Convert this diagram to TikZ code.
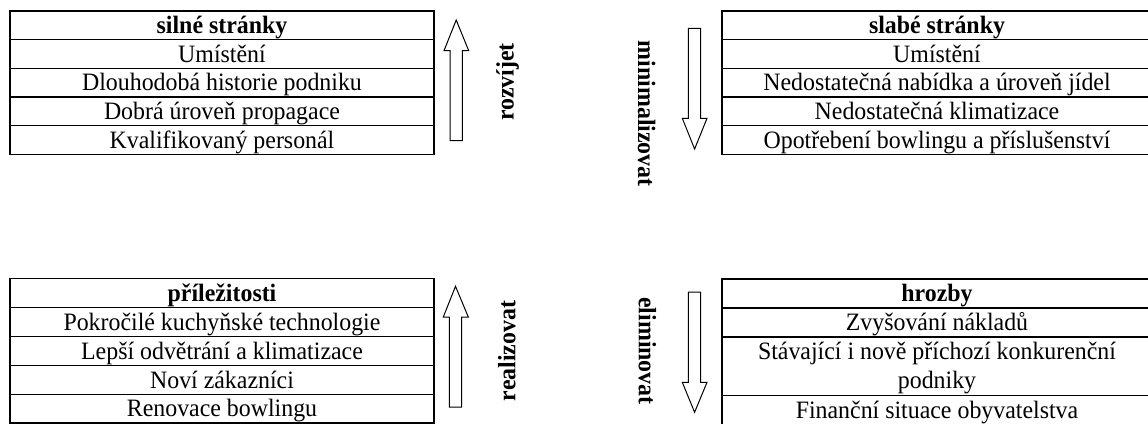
\documentclass[tikz,border=0pt]{standalone}
\usepackage{fontspec}
\setmainfont{Liberation Serif}[FakeStretch=0.955]
\begin{document}
\begin{tikzpicture}[x=1pt,y=-1pt,
  txt/.style={font=\fontsize{25}{29}\selectfont},
  cell/.style={draw=black, line width=1.3pt, inner sep=0pt, outer sep=0pt,
    txt, text height=22.6pt, text depth=6pt},
  head/.style={cell, font=\fontsize{25}{29}\selectfont\bfseries},
  blockarrow/.style={draw=black, line width=1pt, fill=white, line join=miter},
  verb/.style={font=\fontsize{25}{29}\selectfont\bfseries, inner sep=0pt}]
\useasboundingbox (0,0) rectangle (1148,423);

% ---- silné stránky (x 10..434) ----
\node[head, minimum width=424pt, minimum height=28.66pt] (sH) at (222, 25.33) {silné stránky};
\foreach \t [count=\i from 0] in {Umístění,Dlouhodobá historie podniku,Dobrá úroveň propagace,Kvalifikovaný personál}{
  \node[cell, minimum width=424pt, minimum height=28.66pt] (s\i) at (222, 11+28.66*\i+28.66+14.33) {\t};
}

% ---- slabé stránky (x 722..1152) ----
\node[head, minimum width=430pt, minimum height=28.66pt] (wH) at (937, 25.33) {slabé stránky};
\foreach \t [count=\i from 0] in {Umístění,Nedostatečná nabídka a úroveň jídel,Nedostatečná klimatizace,Opotřebení bowlingu a příslušenství}{
  \node[cell, minimum width=430pt, minimum height=28.66pt] (w\i) at (937, 11+28.66*\i+28.66+14.33) {\t};
}

% ---- příležitosti ----
\node[head, minimum width=424pt, minimum height=28.9pt] (oH) at (222, 293.05) {příležitosti};
\foreach \t [count=\i from 0] in {Pokročilé kuchyňské technologie,Lepší odvětrání a klimatizace,Noví zákazníci,Renovace bowlingu}{
  \node[cell, minimum width=424pt, minimum height=28.9pt] (o\i) at (222, 278.6+28.9*\i+28.9+14.45) {\t};
}

% ---- hrozby ----
\node[head, minimum width=430pt, minimum height=29pt] (tH) at (937, 293.5) {hrozby};
\node[cell, minimum width=430pt, minimum height=29pt] (t0) at (937, 322.5) {Zvyšování nákladů};
\node[cell, minimum width=430pt, minimum height=58.3pt] (t1) at (937, 366.15) {};
\node[txt, inner sep=0pt, anchor=base] (t1a) at (937, 359.6) {Stávající i nově příchozí konkurenční};
\node[txt, inner sep=0pt, anchor=base] (t1b) at (937, 388.6) {podniky};
\node[cell, minimum width=430pt, minimum height=29pt] (t2) at (937, 409.8) {Finanční situace obyvatelstva};

% ---- block arrows ----
\draw[blockarrow] (450,140.7) -- (450,50.7) -- (444,50.7) -- (456.2,20) -- (468.7,50.7) -- (462.3,50.7) -- (462.3,140.7) -- cycle;
\draw[blockarrow] (688.3,28.3) -- (688.3,118.3) -- (682.3,118.3) -- (694.6,149) -- (707,118.3) -- (700.7,118.3) -- (700.7,28.3) -- cycle;
\draw[blockarrow] (449.3,407) -- (449.3,317) -- (443.3,317) -- (455.5,286.3) -- (468.3,317) -- (461.7,317) -- (461.7,407) -- cycle;
\draw[blockarrow] (688.3,292) -- (688.3,382.3) -- (682.3,382.3) -- (694.6,412.3) -- (707,382.3) -- (700.7,382.3) -- (700.7,292) -- cycle;

% ---- vertical labels ----
\node[verb, rotate=90] (lS) at (507.7,82) {rozvíjet};
\node[verb, rotate=-90] (lW) at (646.7,113.7) {minimalizovat};
\node[verb, rotate=90] (lO) at (506.7,351) {realizovat};
\node[verb, rotate=-90] (lT) at (647.3,351) {eliminovat};
\end{tikzpicture}
\end{document}
